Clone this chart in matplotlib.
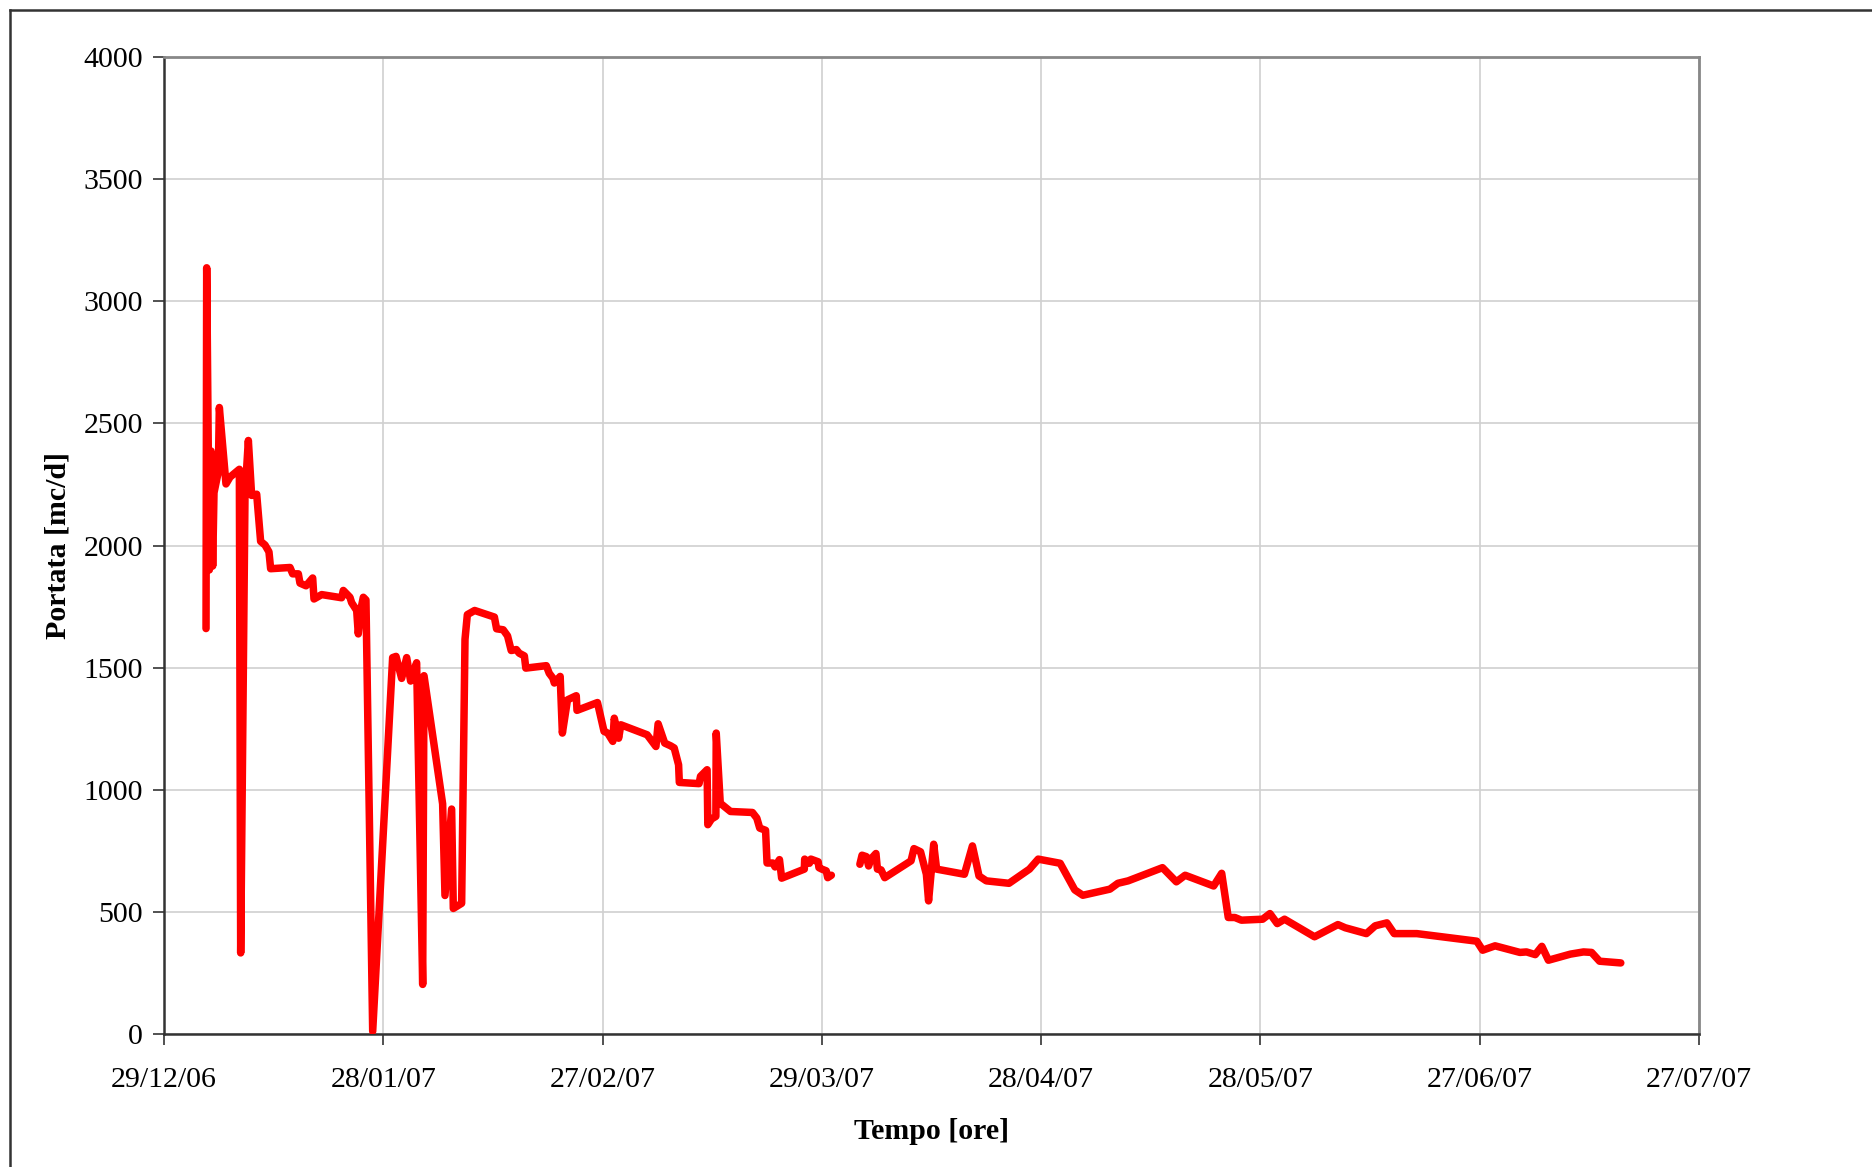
import matplotlib
matplotlib.use("Agg")
import matplotlib.pyplot as plt
import matplotlib.dates as mdates
from matplotlib.lines import Line2D
import numpy as np
from datetime import datetime, timedelta

# giorni dal 29/12/2006 e portata [mc/d]
days = [5.75, 5.84, 6.2, 6.43, 6.66, 6.84, 7.43, 7.57, 8.48, 9.03, 10.31, 10.49,
        11.08, 11.54, 11.99, 12.68, 13.22, 13.82, 14.36, 14.59, 17.24, 17.6, 18.38,
        18.6, 19.43, 20.34, 20.52, 21.57, 24.3, 24.53, 25.44, 25.67, 26.36, 26.58,
        26.9, 27.27, 27.63, 28.55, 31.28, 31.74, 32.51, 33.2, 33.74, 34.56, 35.39,
        35.57, 38.12, 38.44, 39.35, 39.58, 40.72, 41.18, 41.5, 42.5, 45.2, 45.5,
        46.4, 47.0, 47.5, 48.2, 48.6, 49.3, 49.5, 52.3, 52.7, 53.2, 53.4, 54.2,
        54.5, 55.2, 56.4, 56.5, 59.3, 60.2, 60.7, 61.4, 61.6, 62.2, 62.5, 66.1,
        67.3, 67.6, 68.5, 69.3, 69.8, 70.4, 70.5, 73.2, 73.4, 74.3, 74.4, 74.9,
        75.5, 75.55, 76.1, 77.5, 80.5, 81.1, 81.5, 82.3, 82.5, 83.3, 83.6, 84.2,
        84.5, 87.6, 87.65, 88.3, 88.5, 89.5, 89.6, 90.0, 90.6, 90.8, 91.3,
        93.0,
        95.2, 95.5, 96.1, 96.4, 96.7, 97.4, 97.6, 98.1, 98.6, 102.2, 102.6, 103.5,
        104.3, 104.6, 105.3, 105.7, 109.5, 110.6, 111.5, 112.5, 115.6, 118.4,
        119.6, 122.6, 124.6, 125.7, 129.4, 130.5, 131.9, 136.6, 138.5, 139.7,
        143.6, 144.7, 145.6, 146.5, 147.4, 150.3, 151.3, 152.3, 153.3, 157.4,
        160.6, 161.6, 164.5, 165.7, 167.3, 168.3, 171.4, 179.6, 180.4, 182.1,
        185.5, 186.4, 187.6, 188.5, 189.4, 192.4, 194.2, 195.3, 196.4, 199.3]
portata = [1660, 3137, 1900, 2387, 1916, 2216, 2302, 2565, 2252, 2280, 2312, 332,
           2205, 2430, 2205, 2210, 2017, 2002, 1974, 1905, 1910, 1884, 1884,
           1846, 1835, 1867, 1781, 1799, 1786, 1816, 1788, 1766, 1734, 1638,
           1734, 1788, 1777, 11, 1541, 1546, 1456, 1541, 1445, 1520, 203,
           1467, 942, 567, 921, 514, 535, 1616, 1717, 1734, 1707, 1659,
           1655, 1630, 1570, 1574, 1559, 1548, 1498, 1508, 1477, 1457, 1437, 1464,
           1232, 1368, 1385, 1325, 1357, 1239, 1232, 1198, 1293, 1211, 1266, 1225,
           1177, 1270, 1191, 1180, 1171, 1102, 1030, 1025, 1055, 1082, 857, 880,
           891, 1232, 945, 911, 907, 884, 843, 834, 700, 700, 684, 714,
           638, 675, 716, 699, 716, 705, 681, 675, 668, 640, 650,
           np.nan,
           695, 732, 726, 688, 716, 739, 675, 672, 640, 709, 759, 746,
           654, 545, 777, 675, 654, 770, 647, 627, 617, 675,
           716, 699, 590, 568, 593, 617, 627, 681, 623, 650,
           606, 658, 477, 477, 466, 470, 493, 452, 470, 398,
           448, 435, 411, 443, 455, 411, 411, 380, 343, 361,
           334, 336, 325, 359, 302, 327, 336, 334, 298, 291]

start = datetime(2006, 12, 29)
end = datetime(2007, 7, 27)
dates = [start + timedelta(days=d) for d in days]

plt.rcParams['font.family'] = ['Liberation Serif', 'DejaVu Serif']

fig = plt.figure(figsize=(18.72, 11.67), dpi=100)
ax = fig.add_axes([164 / 1872, 1 - 1034 / 1167, (1699 - 164) / 1872, (1034 - 57) / 1167])

ax.plot(dates, portata, color='#ff0000', lw=5.4, solid_joinstyle='round',
        solid_capstyle='round', zorder=3)

ax.set_xlim(start, end)
ax.set_ylim(0, 4000)
ax.set_yticks(np.arange(0, 4001, 500))
ax.set_xticks([start + timedelta(days=30 * i) for i in range(8)])
ax.xaxis.set_major_formatter(mdates.DateFormatter('%d/%m/%y'))

ax.grid(True, color='#d0d0d0', lw=1.2, zorder=0)
ax.tick_params(axis='both', direction='out', length=8, width=1.2, colors='#333333',
               labelsize=21.5, labelcolor='black')
ax.tick_params(axis='y', pad=7)
ax.tick_params(axis='x', pad=16)

for s in ['left', 'bottom']:
    ax.spines[s].set_color('#333333')
    ax.spines[s].set_linewidth(1.8)
for s in ['top', 'right']:
    ax.spines[s].set_color('#888888')
    ax.spines[s].set_linewidth(2.0)

ax.set_xlabel('Tempo [ore]', fontsize=21.5, fontweight='bold', labelpad=18)
ax.set_ylabel('Portata [mc/d]', fontsize=21.5, fontweight='bold', labelpad=9)

# cornice esterna
fx, fy = 10 / 1872, 1 - 10 / 1167
fig.add_artist(Line2D([fx, fx], [0, fy], transform=fig.transFigure, color='#333333', lw=1.8))
fig.add_artist(Line2D([fx, 1], [fy, fy], transform=fig.transFigure, color='#333333', lw=1.8))

fig.savefig('out.png', dpi=100, facecolor='white')
